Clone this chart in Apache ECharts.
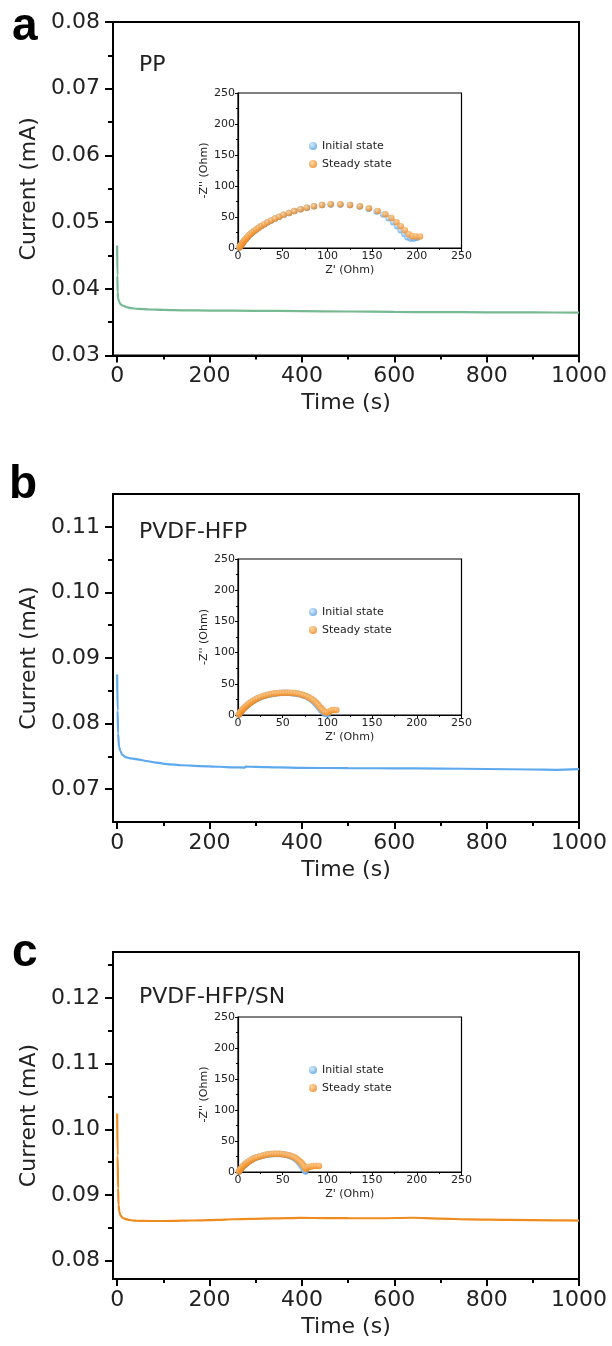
<!DOCTYPE html>
<html><head><meta charset="utf-8">
<script src="https://cdn.jsdelivr.net/npm/echarts@6/dist/echarts.min.js"></script>
<style>html,body{margin:0;padding:0;background:#fff}#c{width:612px;height:1346px}</style>
</head><body><div id="c"></div>
<script>
// ---------- data: main current-time curves ----------
const timeA = [0, 0.5, 1, 2, 4, 7, 12, 20, 30, 45, 70, 100, 150, 200, 300, 400, 500, 600, 700, 800, 900, 1000];
const currentA = [0.0465, 0.0420, 0.0395, 0.0386, 0.0381, 0.0377, 0.0375, 0.03725, 0.0371, 0.0370, 0.0369, 0.03685, 0.03678, 0.03674, 0.0367, 0.03666, 0.0366, 0.03653, 0.0365, 0.03648, 0.03646, 0.03643];

const timeB = [0, 1, 2, 4, 7, 11, 18, 29, 45, 60, 80, 108, 140, 180, 220, 252, 276, 278, 300, 350, 400, 500, 600, 700, 800, 900, 950, 1000];
const currentB = [0.0875, 0.0820, 0.0785, 0.0765, 0.0758, 0.07525, 0.0749, 0.0747, 0.07455, 0.07434, 0.0741, 0.07383, 0.07365, 0.07352, 0.07342, 0.07334, 0.0733, 0.07345, 0.0734, 0.07332, 0.07326, 0.0732, 0.07318, 0.07315, 0.07308, 0.073, 0.07296, 0.07305];

const timeC = [0, 1, 2, 3, 5, 8, 12, 18, 25, 36, 50, 72, 100, 144, 180, 216, 250, 288, 340, 396, 450, 500, 568, 639, 700, 762, 850, 950, 1000];
const currentC = [0.1024, 0.0960, 0.0910, 0.0885, 0.0873, 0.0868, 0.0865, 0.08636, 0.0862, 0.0861, 0.08605, 0.08603, 0.08603, 0.08608, 0.08614, 0.08621, 0.0863, 0.08636, 0.08642, 0.0865, 0.08648, 0.08646, 0.08645, 0.08653, 0.0864, 0.08628, 0.0862, 0.08614, 0.0861];

// ---------- data: EIS insets (Z', -Z'') ----------
const eisA_steady_x = [1.5, 2.5, 3.5, 4.5, 5.5, 6.5, 7.5, 9, 10.5, 12, 14, 16, 18, 20.5, 23, 26, 29.5, 33, 37, 41.5, 46, 51, 57, 63, 70, 77, 85, 94, 103.7, 114.5, 125.3, 136.5, 146.6, 156.3, 164.9, 171.6, 177.2, 182, 186.5, 191, 195, 199, 203.5];
const eisA_steady_y = [1, 3, 5, 7, 9, 11, 13, 15, 17.5, 20, 22.5, 25, 27.5, 30, 32.5, 35.5, 38.5, 41.5, 44.5, 47.5, 50.5, 53.5, 56.5, 59.5, 62.5, 65, 67.5, 69.3, 70.4, 70.4, 69.4, 67.2, 64, 59.7, 54.3, 48.4, 41.4, 35, 28.5, 22, 18.8, 18.5, 18.5];
const eisA_init_x = [1.5, 2.5, 3.5, 4.5, 5.5, 6.5, 7.5, 9, 10.5, 12, 14, 16, 18, 20.5, 23, 26, 29.5, 33, 37, 41.5, 46, 51, 57, 63, 70, 77, 85, 94, 103.7, 114.5, 125.3, 136, 146, 155, 162.5, 168.5, 173.5, 178, 182, 186, 189.5, 193, 196.5, 200];
const eisA_init_y = [1, 3, 5, 7, 9, 11, 13, 15, 17.5, 20, 22.5, 25, 27.5, 30, 32.5, 35.5, 38.5, 41.5, 44.5, 47.5, 50.5, 53.5, 56.5, 59.5, 62.5, 65, 67.5, 69.3, 70.2, 70.2, 69.2, 67, 63.5, 59, 54, 48, 41.5, 35, 28.5, 22.5, 17.5, 15.5, 15.5, 16.5];

const eisB_steady_x = [1, 2, 3, 4, 5, 6.5, 8, 9.5, 11, 13, 15, 17, 19.5, 22, 25, 28, 31, 34, 37, 40, 43, 46, 49, 52, 55, 58, 61, 64, 67, 70, 73, 76, 79, 82, 84.5, 87, 89, 91, 93, 95, 97, 99.5, 102, 104.5, 107, 110];
const eisB_steady_y = [1, 3, 5, 7, 9, 11, 13, 15, 17, 19, 21, 23, 25, 27, 28.8, 30.4, 31.6, 32.7, 33.6, 34.3, 34.9, 35.3, 35.6, 35.8, 35.8, 35.7, 35.4, 35, 34.3, 33.4, 32.2, 30.6, 28.6, 26.2, 23.6, 20.6, 17.5, 14.2, 10.8, 7.5, 5, 4, 5.5, 7.5, 8.2, 8.2];
const eisB_init_x = [1, 2, 3, 4, 5, 6.5, 8, 9.5, 11, 13, 15, 17, 19.5, 22, 25, 28, 31, 34, 37, 40, 43, 46, 49, 52, 55, 58, 61, 64, 67, 70, 73, 76, 79, 82, 84.5, 86.5, 88.5, 90.5, 92.5, 94.5, 96.5, 98.5, 100.5];
const eisB_init_y = [1, 3, 5, 7, 9, 11, 13, 15, 17, 19, 21, 23, 25, 27, 28.6, 30.2, 31.4, 32.5, 33.4, 34.1, 34.7, 35.1, 35.4, 35.5, 35.5, 35.3, 35, 34.5, 33.7, 32.7, 31.4, 30, 27.8, 25, 22, 18.8, 15.5, 12, 8.5, 5.5, 3, 1.5, 1];

const eisC_steady_x = [1, 2, 3, 4, 5, 6.5, 8, 9.5, 11, 12.8, 14.8, 17, 19.5, 22, 25, 28, 31, 34, 37, 40, 43, 46, 49, 52, 55, 58, 61, 63.5, 66, 68, 70, 71.8, 73.2, 74.5, 75.6, 77, 79, 81.5, 84.5, 87.5, 90.5];
const eisC_steady_y = [1, 3, 5, 7, 8.8, 10.6, 12.4, 14.2, 16, 17.8, 19.5, 21.2, 22.8, 24.2, 25.6, 26.8, 27.8, 28.5, 29, 29.3, 29.4, 29.3, 29, 28.4, 27.6, 26.5, 25, 23.2, 21, 18.6, 16, 13.2, 10.4, 7.6, 5, 6.5, 8, 9, 9.5, 9.8, 9.8];
const eisC_init_x = [1, 2, 3, 4, 5, 6.5, 8, 9.5, 11, 12.8, 14.8, 17, 19.5, 22, 25, 28, 31, 34, 37, 40, 43, 46, 49, 52, 55, 58, 61, 63.5, 65.5, 67.5, 69.3, 70.8, 72.2, 73.4, 74.5, 75.5];
const eisC_init_y = [1, 3, 5, 7, 8.8, 10.6, 12.4, 14.2, 16, 17.8, 19.5, 21.2, 22.8, 24.2, 25.5, 26.6, 27.6, 28.3, 28.8, 29.1, 29.2, 29.1, 28.8, 28.2, 27.3, 26, 24.2, 22, 19.6, 17, 14, 11, 8, 5, 2.4, 1];

// ---------- tick values / labels ----------
const xMajor = [0, 200, 400, 600, 800, 1000];
const xMinor = [100, 300, 500, 700, 900];
const yMajorA = [0.03, 0.04, 0.05, 0.06, 0.07, 0.08];
const yMinorA = [0.035, 0.045, 0.055, 0.065, 0.075];
const yMajorB = [0.07, 0.08, 0.09, 0.10, 0.11];
const yMinorB = [0.075, 0.085, 0.095, 0.105];
const yMajorC = [0.08, 0.09, 0.10, 0.11, 0.12];
const yMinorC = [0.085, 0.095, 0.105, 0.115, 0.125];
const panelLetters = ['a', 'b', 'c'];
const panelTitles = ['PP', 'PVDF-HFP', 'PVDF-HFP/SN'];
const legendNames = ['Initial state', 'Steady state'];

// ---------- layout ----------
const FONT = '"DejaVu Sans", "Open Sans", sans-serif';
const panels = [
  {top: 22, height: 333.5, ymin: 0.03, ymax: 0.08, yMaj: yMajorA, yMin: yMinorA, t: timeA, v: currentA, color: '#76b993',
   inset: {top: 93, height: 155}, eis: [eisA_init_x, eisA_init_y, eisA_steady_x, eisA_steady_y], titleY: 65, letterY: 27.5, letterX: 12},
  {top: 494, height: 328, ymin: 0.065, ymax: 0.115, yMaj: yMajorB, yMin: yMinorB, t: timeB, v: currentB, color: '#5ea9ee',
   inset: {top: 559, height: 156}, eis: [eisB_init_x, eisB_init_y, eisB_steady_x, eisB_steady_y], titleY: 532, letterY: 485, letterX: 9},
  {top: 952, height: 327, ymin: 0.0772, ymax: 0.127, yMaj: yMajorC, yMin: yMinorC, t: timeC, v: currentC, color: '#f08c1f',
   inset: {top: 1017, height: 155}, eis: [eisC_init_x, eisC_init_y, eisC_steady_x, eisC_steady_y], titleY: 997, letterY: 953.5, letterX: 12}
];

const zip = (a, b) => a.map((x, i) => [x, b[i]]);
const blueFill = {type: 'radial', x: 0.38, y: 0.35, r: 0.7, colorStops: [{offset: 0, color: '#cfe7ff'}, {offset: 1, color: '#4898e0'}]};
const orangeFill = {type: 'radial', x: 0.38, y: 0.35, r: 0.7, colorStops: [{offset: 0, color: '#ffcf94'}, {offset: 1, color: '#ee7f0c'}]};

const grid = [], xAxis = [], yAxis = [], series = [], legend = [], graphic = [];
const black = '#000';
const labelStyle = {fontFamily: FONT, fontSize: 22, color: '#222'};
const insetText = {fontFamily: FONT, fontSize: 11, color: '#222'};

panels.forEach((p, i) => {
  const gMain = grid.length;
  grid.push({left: 113, width: 466, top: p.top, height: p.height, show: true, borderColor: black, borderWidth: 2, containLabel: false});
  const gIn = grid.length;
  grid.push({left: 238, width: 223.5, top: p.inset.top, height: p.inset.height, show: true, borderColor: black, borderWidth: 1.2, containLabel: false});

  const xi = xAxis.length;
  xAxis.push({type: 'value', gridIndex: gMain, min: -9, max: 1000, position: 'bottom',
    axisLine: {show: true, onZero: false, lineStyle: {color: black, width: 2}},
    axisTick: {show: true, length: 7, lineStyle: {color: black, width: 2}, customValues: xMajor},
    axisLabel: {show: true, customValues: xMajor, margin: 10, formatter: v => String(Math.round(v)), ...labelStyle},
    splitLine: {show: false},
    name: 'Time (s)', nameLocation: 'middle', nameGap: 37, nameTextStyle: {...labelStyle}});
  xAxis.push({type: 'value', gridIndex: gMain, min: -9, max: 1000, position: 'bottom', offset: 0,
    axisLine: {show: false, onZero: false},
    axisTick: {show: true, length: 4, lineStyle: {color: black, width: 2}, customValues: xMinor},
    axisLabel: {show: false}, splitLine: {show: false}});
  xAxis.push({type: 'value', gridIndex: gIn, min: 0, max: 250, interval: 50, position: 'bottom',
    axisLine: {show: true, onZero: false, lineStyle: {color: black, width: 1.2}},
    axisTick: {show: true, length: 3, lineStyle: {color: black, width: 1}},
    minorTick: {show: true, splitNumber: 2, length: 2, lineStyle: {color: black, width: 1}},
    axisLabel: {margin: 3, ...insetText},
    splitLine: {show: false}, minorSplitLine: {show: false},
    name: "Z' (Ohm)", nameLocation: 'middle', nameGap: 17, nameTextStyle: {...insetText}});

  const yi = yAxis.length;
  yAxis.push({type: 'value', gridIndex: gMain, min: p.ymin, max: p.ymax, position: 'left',
    axisLine: {show: true, onZero: false, lineStyle: {color: black, width: 2}},
    axisTick: {show: true, length: 8, lineStyle: {color: black, width: 2}, customValues: p.yMaj},
    axisLabel: {show: true, customValues: p.yMaj, margin: 13, formatter: v => v.toFixed(2), ...labelStyle},
    splitLine: {show: false},
    name: 'Current (mA)', nameLocation: 'middle', nameGap: 71, nameTextStyle: {...labelStyle}});
  yAxis.push({type: 'value', gridIndex: gMain, min: p.ymin, max: p.ymax, position: 'left', offset: 0,
    axisLine: {show: false, onZero: false},
    axisTick: {show: true, length: 5, lineStyle: {color: black, width: 2}, customValues: p.yMin},
    axisLabel: {show: false}, splitLine: {show: false}});
  yAxis.push({type: 'value', gridIndex: gIn, min: 0, max: 250, interval: 50, position: 'left',
    axisLine: {show: true, onZero: false, lineStyle: {color: black, width: 1.2}},
    axisTick: {show: true, length: 3, lineStyle: {color: black, width: 1}},
    minorTick: {show: true, splitNumber: 2, length: 2, lineStyle: {color: black, width: 1}},
    axisLabel: {margin: 3, ...insetText},
    splitLine: {show: false}, minorSplitLine: {show: false},
    name: "-Z'' (Ohm)", nameLocation: 'middle', nameGap: 25, nameTextStyle: {...insetText}});

  series.push({type: 'line', xAxisIndex: xi, yAxisIndex: yi, data: zip(p.t, p.v), showSymbol: false, symbol: 'none',
    smooth: 0.25, smoothMonotone: 'x', lineStyle: {color: p.color, width: 2.2}, z: 3, silent: true});
  series.push({type: 'scatter', name: legendNames[0], xAxisIndex: xi + 2, yAxisIndex: yi + 2, data: zip(p.eis[0], p.eis[1]),
    symbol: 'circle', symbolSize: 6.5, itemStyle: {color: blueFill, borderWidth: 0}, z: 4, silent: true});
  series.push({type: 'scatter', name: legendNames[1], xAxisIndex: xi + 2, yAxisIndex: yi + 2, data: zip(p.eis[2], p.eis[3]),
    symbol: 'circle', symbolSize: 6.5, itemStyle: {color: orangeFill, borderWidth: 0}, z: 5, silent: true});

  legend.push({data: legendNames, orient: 'vertical', left: 309, top: p.inset.top + 46, padding: 0, itemGap: 4,
    itemWidth: 8, itemHeight: 8, icon: 'circle', selectedMode: false,
    textStyle: {fontFamily: FONT, fontSize: 11, color: '#222', lineHeight: 14}});

  graphic.push({type: 'text', x: 139, y: p.titleY, style: {text: panelTitles[i], fill: '#222', font: '22px ' + FONT, verticalAlign: 'middle'}});
  graphic.push({type: 'text', x: p.letterX, y: p.letterY, style: {text: panelLetters[i], fill: '#000', font: 'bold 46px "Liberation Sans", Arial, sans-serif', verticalAlign: 'middle'}});
});

const chart = echarts.init(document.getElementById('c'), null, {renderer: 'canvas'});
chart.setOption({animation: false, backgroundColor: '#fff', grid, xAxis, yAxis, series, legend, graphic});
</script>
</body></html>
